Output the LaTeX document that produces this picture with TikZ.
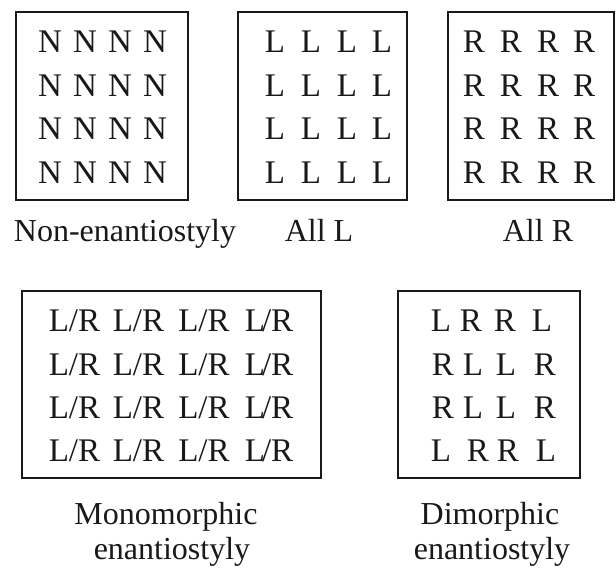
\documentclass[tikz,border=0pt]{standalone}
\usepackage{fontspec}
\setmainfont{Liberation Serif}
\begin{document}
\begin{tikzpicture}[x=1pt,y=-1pt,
  frame/.style={draw=black!90,line width=1.2pt,inner sep=0pt},
  cell/.style={anchor=base,inner sep=0pt,font=\fontsize{33}{36}\selectfont,text=black!90},
  lbl/.style={anchor=base,inner sep=0pt,font=\fontsize{32}{35}\selectfont,text=black!90}]
\useasboundingbox (0,0) rectangle (616,569);
% boxes
\node[frame,minimum width=172pt,minimum height=188pt] (box1) at (102,106) {};
\node[frame,minimum width=169pt,minimum height=188pt] (box2) at (322.5,106) {};
\node[frame,minimum width=166pt,minimum height=188pt] (box3) at (531,106) {};
\node[frame,minimum width=299pt,minimum height=187pt] (box4) at (171.5,384.5) {};
\node[frame,minimum width=182pt,minimum height=187pt] (box5) at (489,384.5) {};
% top grids
\foreach \y [count=\r] in {53,96.5,140,183.5}{
  \foreach \x [count=\c] in {50,85,120,155}{
    \node[cell] (n\r\c) at (\x,\y) {N};}
  \foreach \x [count=\c] in {275,311,347,382}{
    \node[cell] (l\r\c) at (\x,\y) {L};}
  \foreach \x [count=\c] in {474,511,548,584}{
    \node[cell] (r\r\c) at (\x,\y) {R};}
}
% monomorphic grid
\foreach \y [count=\r] in {332,375,418,461}{
  \foreach \x [count=\c] in {74.5,138.5,204}{
    \node[cell] (m\r\c) at (\x,\y) {L/R};}
  \node[cell] (m\r4) at (269,\y) {L\kern-3pt/R};
}
% dimorphic grid
\node[cell] (d11) at (441,332) {L};
\node[cell] (d12) at (471,332) {R};
\node[cell] (d13) at (505,332) {R};
\node[cell] (d14) at (542,332) {L};
\node[cell] (d21) at (443,375) {R};
\node[cell] (d22) at (473,375) {L};
\node[cell] (d23) at (506,375) {L};
\node[cell] (d24) at (545,375) {R};
\node[cell] (d31) at (443,418) {R};
\node[cell] (d32) at (473,418) {L};
\node[cell] (d33) at (506,418) {L};
\node[cell] (d34) at (545,418) {R};
\node[cell] (d41) at (441,461) {L};
\node[cell] (d42) at (478,461) {R};
\node[cell] (d43) at (508,461) {R};
\node[cell] (d44) at (546,461) {L};
% labels
\node[lbl] (t1) at (125,242) {Non-enantiostyly};
\node[lbl] (t2) at (319,242) {All L};
\node[lbl] (t3) at (538,242) {All R};
\node[lbl] (t4a) at (166,524) {Monomorphic};
\node[lbl] (t4b) at (172,559) {enantiostyly};
\node[lbl] (t5a) at (490,524) {Dimorphic};
\node[lbl] (t5b) at (492,559) {enantiostyly};
\end{tikzpicture}
\end{document}
